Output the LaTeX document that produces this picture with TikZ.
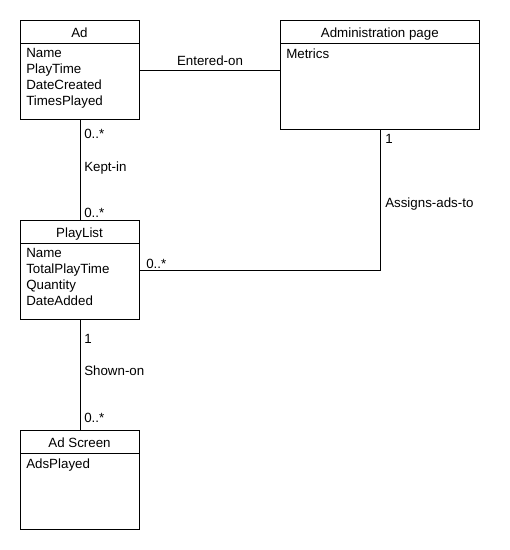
\documentclass[tikz,border=0pt]{standalone}
\usepackage{fontspec}
\setmainfont{Liberation Sans}
\usetikzlibrary{positioning}

\tikzset{
  clase/.style={draw, line width=0.75pt, rectangle, inner sep=0pt, anchor=north west, minimum width=89.25pt},
  titulo/.style={anchor=base, inner sep=0pt},
  atributos/.style={anchor=north west, inner sep=0pt, align=left},
  etiqueta/.style={anchor=base west, inner sep=0pt},
  enlace/.style={line width=0.75pt}
}

\begin{document}
\begin{tikzpicture}[x=0.75pt, y=-0.75pt, font=\fontsize{10}{12}\selectfont]
        \useasboundingbox (0,0) rectangle (510,550);

        % Clase Ad
        \node[clase, minimum height=74.25pt] (ad) at (20,20) {};
        \draw[enlace] ([yshift=-17.25pt]ad.north west) -- ([yshift=-17.25pt]ad.north east);
        \node[titulo] (adtit) at (79.5,37.5) {Ad};
        \node[atributos] (adatr) at (26,48.5) {Name\\PlayTime\\DateCreated\\TimesPlayed};

        % Clase Administration page
        \node[clase, minimum width=149.25pt, minimum height=81.75pt] (admin) at (280,20) {};
        \draw[enlace] ([yshift=-17.25pt]admin.north west) -- ([yshift=-17.25pt]admin.north east);
        \node[titulo] (admintit) at (379.8,37.5) {Administration page};
        \node[atributos] (adminatr) at (286,48.5) {Metrics};

        % Clase PlayList
        \node[clase, minimum height=74.25pt] (playlist) at (20,220) {};
        \draw[enlace] ([yshift=-17.25pt]playlist.north west) -- ([yshift=-17.25pt]playlist.north east);
        \node[titulo] (playtit) at (79.5,237.5) {PlayList};
        \node[atributos] (playatr) at (26,248.5) {Name\\TotalPlayTime\\Quantity\\DateAdded};

        % Clase Ad Screen
        \node[clase, minimum height=74.25pt] (screen) at (20,430) {};
        \draw[enlace] ([yshift=-17.25pt]screen.north west) -- ([yshift=-17.25pt]screen.north east);
        \node[titulo] (screentit) at (79.5,447.5) {Ad Screen};
        \node[atributos] (screenatr) at (26,458.5) {AdsPlayed};

        % Asociaciones
        \draw[enlace] (ad.east) -- (ad.east -| admin.west);
        \draw[enlace] (ad.south) -- (playlist.north);
        \draw[enlace] (admin.south) |- (playlist.east);
        \draw[enlace] (playlist.south) -- (screen.north);

        % Etiquetas
        \node[etiqueta, anchor=base] (entered) at (210,65.5) {Entered-on};
        \node[etiqueta] (mult1) at (84,138) {0..*};
        \node[etiqueta] (kept) at (84,171) {Kept-in};
        \node[etiqueta] (mult2) at (84,217) {0..*};
        \node[etiqueta] (mult3) at (385,143) {1};
        \node[etiqueta] (assigns) at (385,207) {Assigns-ads-to};
        \node[etiqueta] (mult4) at (146,268) {0..*};
        \node[etiqueta] (mult5) at (84,343) {1};
        \node[etiqueta] (shown) at (84,375) {Shown-on};
        \node[etiqueta] (mult6) at (84,422) {0..*};
    \end{tikzpicture}
\end{document}
